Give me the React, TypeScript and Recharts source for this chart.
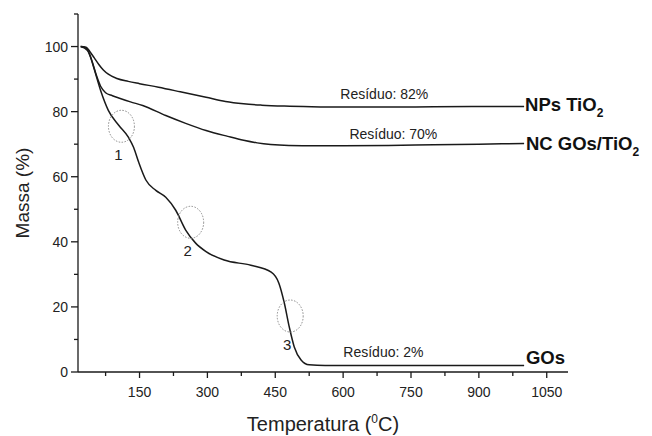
import { LineChart, Line, XAxis, YAxis, ReferenceDot } from 'recharts';

// TGA curves
const tempTiO2 = [20, 32, 40, 50, 60, 70, 81, 100, 125, 150, 192, 240, 297, 340, 380, 420, 470, 530, 600, 700, 800, 900, 1000];
const massTiO2 = [100, 99.8, 98.5, 96.5, 94.5, 92.8, 91.5, 90.2, 89.3, 88.6, 87.5, 86.1, 84.4, 83.1, 82.4, 82, 81.7, 81.5, 81.4, 81.4, 81.5, 81.6, 81.6];

const tempNC = [20, 35, 45, 55, 64, 75, 90, 104, 130, 157, 208, 252, 297, 345, 380, 410, 440, 480, 540, 600, 700, 800, 900, 1000];
const massNC = [100, 98.8, 95.5, 91, 87.8, 85.8, 84.9, 84.2, 83, 81.9, 78.8, 76.4, 74.2, 72.4, 71.2, 70.4, 69.9, 69.6, 69.5, 69.5, 69.6, 69.8, 70, 70.2];

const tempGO = [20, 32, 40, 50, 64, 81, 104, 126, 137, 148, 164, 186, 208, 230, 252, 274, 297, 337, 396, 441, 458, 470, 481, 492, 507, 525, 560, 700, 850, 1000];
const massGO = [100, 99.5, 97.5, 93, 86.5, 80.4, 75.8, 72, 69, 64.5, 59, 55.8, 53.7, 49.7, 43.6, 39.6, 37, 34.4, 32.8, 30.7, 27.3, 21.2, 13.8, 7.7, 3.7, 2.2, 2, 2, 2, 2];

const xTicks = [75, 150, 225, 300, 375, 450, 525, 600, 675, 750, 825, 900, 975, 1050];
const yTicks = [0, 10, 20, 30, 40, 50, 60, 70, 80, 90, 100, 110];

// dotted circles marking the decomposition steps
const stepMarks = [
  { t: 110, m: 75.5, label: '1' },
  { t: 263, m: 46, label: '2' },
  { t: 483, m: 17.2, label: '3' },
];

const residueNotes = [
  { t: 691, m: 85.3, text: 'Resíduo: 82%' },
  { t: 711, m: 73, text: 'Resíduo: 70%' },
  { t: 689, m: 6.1, text: 'Resíduo: 2%' },
];

const curveNames = [
  { t: 1002, m: 82.5, main: 'NPs TiO', sub: '2' },
  { t: 1004, m: 70.5, main: 'NC GOs/TiO', sub: '2' },
  { t: 1004, m: 4.6, main: 'GOs', sub: '' },
];

const toPoints = (ts: number[], ms: number[]) => ts.map((t, i) => ({ t, m: ms[i] }));

const FONT = '"Liberation Sans", Arial, sans-serif';
const INK = '#1a1a1a';

const XTick = ({ x, y, payload }: any) => {
  const major = payload.value % 150 === 0;
  return (
    <g>
      <line x1={x} x2={x} y1={y} y2={y + (major ? 6 : 4)} stroke={INK} strokeWidth={1.3} />
      {major && (
        <text x={x} y={y + 25} textAnchor="middle" fontSize={14} fontFamily={FONT} fill="#222">
          {payload.value}
        </text>
      )}
    </g>
  );
};

const YTick = ({ x, y, payload }: any) => {
  const major = payload.value % 20 === 0 && payload.value <= 100;
  return (
    <g>
      <line x1={x} x2={x - (major ? 7 : 4)} y1={y} y2={y} stroke={INK} strokeWidth={1.3} />
      {major && (
        <text x={x - 10} y={y + 5} textAnchor="end" fontSize={14} fontFamily={FONT} fill="#222">
          {payload.value}
        </text>
      )}
    </g>
  );
};

export default function App() {
  return (
    <div style={{ width: 652, height: 436, background: '#fff' }}>
      <style>{'body{margin:0}'}</style>
      <LineChart width={652} height={436} margin={{ top: 14, right: 84, bottom: 24, left: 0 }}>
        <XAxis
          type="number"
          dataKey="t"
          domain={[14, 1097]}
          ticks={xTicks}
          allowDataOverflow
          height={40}
          tickSize={0}
          tickMargin={0}
          tick={<XTick />}
          stroke={INK}
          strokeWidth={1.3}
          label={(props: any) => {
            const vb = props.viewBox;
            return (
              <text x={vb.x + vb.width / 2} y={vb.y + 59} textAnchor="middle" fontSize={20} fontFamily={FONT} fill="#222">
                Temperatura (<tspan fontSize={12} dy={-8}>0</tspan>
                <tspan dy={8}>C)</tspan>
              </text>
            );
          }}
        />
        <YAxis
          type="number"
          dataKey="m"
          domain={[0, 110]}
          ticks={yTicks}
          allowDataOverflow
          width={78}
          tickSize={0}
          tickMargin={0}
          tick={<YTick />}
          stroke={INK}
          strokeWidth={1.3}
          label={(props: any) => {
            const vb = props.viewBox;
            const cy = vb.y + vb.height / 2;
            return (
              <text
                x={22}
                y={cy}
                transform={`rotate(-90, 22, ${cy})`}
                textAnchor="middle"
                dominantBaseline="central"
                fontSize={19}
                fontFamily={FONT}
                fill="#222"
              >
                Massa (%)
              </text>
            );
          }}
        />
        <Line data={toPoints(tempTiO2, massTiO2)} dataKey="m" type="monotone" stroke={INK} strokeWidth={1.5} dot={false} isAnimationActive={false} />
        <Line data={toPoints(tempNC, massNC)} dataKey="m" type="monotone" stroke={INK} strokeWidth={1.5} dot={false} isAnimationActive={false} />
        <Line data={toPoints(tempGO, massGO)} dataKey="m" type="monotone" stroke={INK} strokeWidth={1.5} dot={false} isAnimationActive={false} />

        {stepMarks.map((s) => (
          <ReferenceDot
            key={s.label}
            x={s.t}
            y={s.m}
            r={0}
            shape={(p: any) => (
              <g>
                <ellipse cx={p.cx} cy={p.cy} rx={13} ry={16} fill="none" stroke="#8a8a8a" strokeWidth={1} strokeDasharray="1.5 1.5" />
                <text x={p.cx - 3} y={p.cy + 34} textAnchor="middle" fontSize={15} fontFamily={FONT} fill="#222">
                  {s.label}
                </text>
              </g>
            )}
          />
        ))}

        {residueNotes.map((n) => (
          <ReferenceDot
            key={n.text}
            x={n.t}
            y={n.m}
            r={0}
            shape={(p: any) => (
              <text x={p.cx} y={p.cy + 5} textAnchor="middle" fontSize={14} fontFamily={FONT} fill="#222">
                {n.text}
              </text>
            )}
          />
        ))}

        {curveNames.map((c) => (
          <ReferenceDot
            key={c.main}
            x={c.t}
            y={c.m}
            r={0}
            ifOverflow="visible"
            shape={(p: any) => (
              <text x={p.cx} y={p.cy + 7} fontSize={18.5} fontWeight="bold" fontFamily={FONT} fill="#111">
                {c.main}
                {c.sub && (
                  <tspan fontSize={12} dy={6}>
                    {c.sub}
                  </tspan>
                )}
              </text>
            )}
          />
        ))}
      </LineChart>
    </div>
  );
}
